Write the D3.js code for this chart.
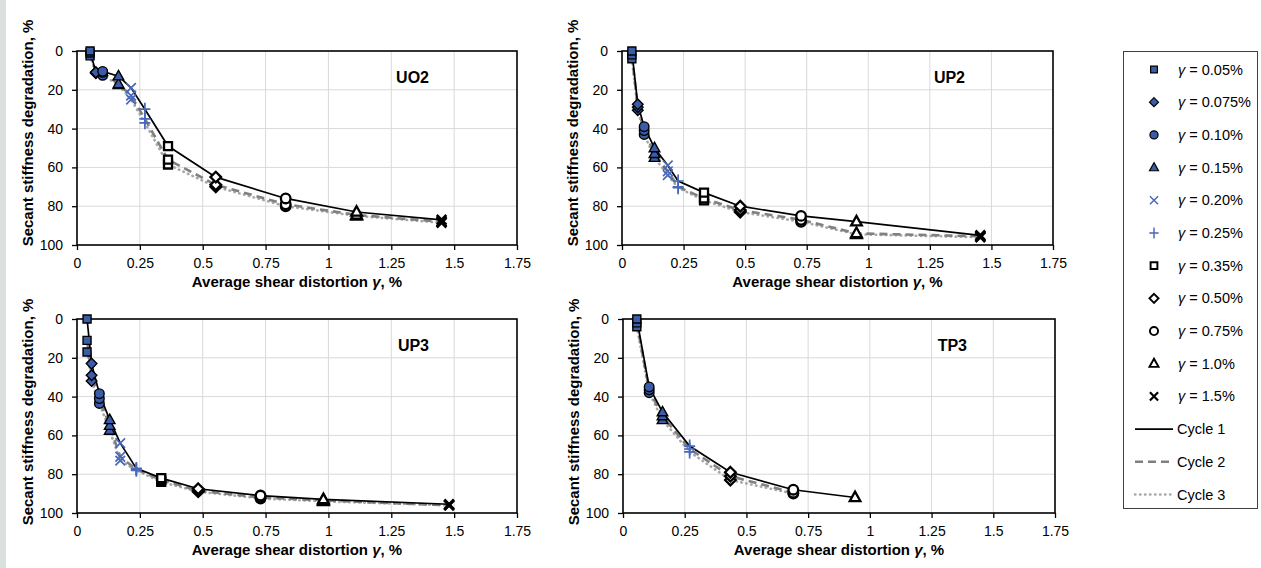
<!DOCTYPE html>
<html>
<head>
<meta charset="utf-8">
<script src="https://cdn.jsdelivr.net/npm/d3@7"></script>
<style>
  body { margin: 0; background: #fff; }
  svg { display: block; font-family: "Liberation Sans", Arial, sans-serif; }
</style>
</head>
<body>
<div id="chart"></div>
<script>
// amplitude levels (legend order)
const levels = ["0.05%", "0.075%", "0.10%", "0.15%", "0.20%", "0.25%", "0.35%", "0.50%", "0.75%", "1.0%", "1.5%"];
const cycles = ["Cycle 1", "Cycle 2", "Cycle 3"];
const xTicks = [0, 0.25, 0.5, 0.75, 1, 1.25, 1.5, 1.75];
const yTicks = [0, 20, 40, 60, 80, 100];

// UO2
const uo2Gamma  = [0.052, 0.075, 0.102, 0.165, 0.215, 0.27, 0.362, 0.552, 0.83, 1.112, 1.45];
const uo2Cycle1 = [0, 11, 10.5, 13, 19, 30, 49, 65, 76, 83, 87];
const uo2Cycle2 = [1, 11, 11, 17, 23, 35, 56, 69, 79, 84.5, 88];
const uo2Cycle3 = [2.5, 11.5, 12.5, 17.5, 25, 37, 58.5, 70, 80, 85, 88.5];

// UP2
const up2Gamma  = [0.04, 0.064, 0.09, 0.132, 0.186, 0.228, 0.333, 0.48, 0.727, 0.952, 1.455];
const up2Cycle1 = [0, 27.5, 39, 50, 59, 67, 73, 80, 85, 88, 95];
const up2Cycle2 = [2, 29, 41, 53, 62, 70, 76, 82, 87, 94, 95.5];
const up2Cycle3 = [4, 30.5, 43, 55, 64, 70.5, 77, 83, 88, 94.5, 96];

// UP3
const up3Gamma  = [0.04, 0.058, 0.089, 0.13, 0.172, 0.236, 0.335, 0.482, 0.73, 0.98, 1.48];
const up3Cycle1 = [0, 23, 38.5, 52, 64, 77, 82, 87.5, 91, 93, 95.5];
const up3Cycle2 = [11, 29, 41, 55, 71, 77.5, 83, 88.5, 92, 93.5, 96];
const up3Cycle3 = [17, 32, 43.5, 57.5, 73, 78, 84, 89, 92.5, 94, 96];

// TP3 (not all levels tested)
const tp3Gamma  = [0.056, null, 0.106, 0.16, null, 0.27, null, 0.435, 0.69, 0.94, null];
const tp3Cycle1 = [0, null, 35, 48, null, 65.5, null, 79, 88, 92, null];
const tp3Cycle2 = [2, null, 36.5, 50, null, 67, null, 81, 89.5, null, null];
const tp3Cycle3 = [4, null, 38, 52, null, 68.5, null, 83, 90, null, null];

const panels = [
  { name: "UO2", gamma: uo2Gamma, series: [uo2Cycle1, uo2Cycle2, uo2Cycle3], left: 77, top: 51, right: 517, bottom: 245, titleY: 133 },
  { name: "UP2", gamma: up2Gamma, series: [up2Cycle1, up2Cycle2, up2Cycle3], left: 622, top: 51, right: 1053, bottom: 245, titleY: 133 },
  { name: "UP3", gamma: up3Gamma, series: [up3Cycle1, up3Cycle2, up3Cycle3], left: 77, top: 319, right: 517, bottom: 513, titleY: 412 },
  { name: "TP3", gamma: tp3Gamma, series: [tp3Cycle1, tp3Cycle2, tp3Cycle3], left: 623, top: 319, right: 1055, bottom: 513, titleY: 412 }
];

const shapes = ["square", "diamond", "circle", "triangle", "x", "plus", "square", "diamond", "circle", "triangle", "x"];
const blue = "#3a5ca9";
const blueLine = "#4868bc";

function markerPath(s) {
  switch (s) {
    case "square": return "M-4,-4h8v8h-8Z";
    case "diamond": return "M0,-5.3L5.3,0L0,5.3L-5.3,0Z";
    case "circle": return d3.symbol(d3.symbolCircle, 72)();
    case "triangle": return "M0,-5.8L5.3,3.7L-5.3,3.7Z";
    case "x": return "M-4.8,-4.8L4.8,4.8M-4.8,4.8L4.8,-4.8";
    case "plus": return "M-5.5,0L5.5,0M0,-6.5L0,6.5";
  }
}

function styleMarker(sel, i) {
  const s = shapes[i];
  const hollow = i >= 6;
  if (s === "x" || s === "plus") {
    sel.attr("fill", "none")
      .attr("stroke", hollow ? "#000" : blueLine)
      .attr("stroke-width", hollow ? 2.6 : 1.7);
  } else {
    sel.attr("fill", hollow ? "#fff" : blue)
      .attr("stroke", "#000")
      .attr("stroke-width", hollow ? 2.3 : 1.4);
  }
}

const lineStyles = [
  { color: "#000", width: 1.7, dash: null, cap: "butt" },
  { color: "#808080", width: 2.6, dash: "8,5", cap: "butt" },
  { color: "#a8a8a8", width: 2.6, dash: "0.5,4.5", cap: "round" }
];

const W = 1261, H = 568;
const svg = d3.select("#chart").append("svg").attr("width", W).attr("height", H);

svg.append("rect").attr("x", 0).attr("y", 0).attr("width", 6).attr("height", H).attr("fill", "#dae0e0");

panels.forEach(p => {
  const x = d3.scaleLinear().domain([0, 1.75]).range([p.left, p.right]);
  const y = d3.scaleLinear().domain([0, 100]).range([p.top, p.bottom]);
  const g = svg.append("g");

  // grid
  g.append("g").selectAll("line").data(xTicks.slice(1, -1)).join("line")
    .attr("x1", d => x(d)).attr("x2", d => x(d)).attr("y1", p.top).attr("y2", p.bottom)
    .attr("stroke", "#d9d9d9").attr("stroke-width", 1);
  g.append("g").selectAll("line").data(yTicks.slice(1, -1)).join("line")
    .attr("y1", d => y(d)).attr("y2", d => y(d)).attr("x1", p.left).attr("x2", p.right)
    .attr("stroke", "#d9d9d9").attr("stroke-width", 1);

  // axes
  const xa = g.append("g").attr("transform", `translate(0,${p.bottom})`)
    .call(d3.axisBottom(x).tickValues(xTicks).tickSize(5).tickPadding(8).tickFormat(d3.format("")));
  const ya = g.append("g").attr("transform", `translate(${p.left},0)`)
    .call(d3.axisLeft(y).tickValues(yTicks).tickSize(5).tickPadding(9));
  [xa, ya].forEach(a => {
    a.select(".domain").remove();
    a.selectAll("line").attr("stroke", "#000").attr("stroke-width", 1.3);
    a.selectAll("text").attr("font-size", 14).attr("fill", "#000")
      .attr("font-family", '"Liberation Sans", Arial, sans-serif');
  });

  g.append("rect").attr("x", p.left).attr("y", p.top)
    .attr("width", p.right - p.left).attr("height", p.bottom - p.top)
    .attr("fill", "none").attr("stroke", "#000").attr("stroke-width", 1.6);

  // titles
  const xt = g.append("text").attr("x", (p.left + p.right) / 2).attr("y", p.bottom + 42)
    .attr("text-anchor", "middle").attr("font-size", 15).attr("font-weight", "bold");
  xt.append("tspan").text("Average shear distortion ");
  xt.append("tspan").attr("font-style", "italic").text("γ");
  xt.append("tspan").text(", %");

  g.append("text").attr("transform", `translate(${p.left - 44},${p.titleY}) rotate(-90)`)
    .attr("text-anchor", "middle").attr("font-size", 15).attr("font-weight", "bold")
    .text("Secant stiffness degradation, %");

  g.append("text").attr("x", p.right - 88).attr("y", p.top + 32)
    .attr("text-anchor", "end").attr("font-size", 16).attr("font-weight", "bold")
    .text(p.name);

  // cycle lines
  const line = d3.line().x(d => x(d[0])).y(d => y(d[1]));
  [2, 1, 0].forEach(c => {
    const pts = p.gamma.map((gm, i) => [gm, p.series[c][i]]).filter(d => d[0] != null && d[1] != null);
    const st = lineStyles[c];
    g.append("path").attr("d", line(pts)).attr("fill", "none")
      .attr("stroke", st.color).attr("stroke-width", st.width)
      .attr("stroke-dasharray", st.dash).attr("stroke-linecap", st.cap);
  });

  // markers
  [2, 1, 0].forEach(c => {
    p.gamma.forEach((gm, i) => {
      const v = p.series[c][i];
      if (gm == null || v == null) return;
      g.append("path").attr("d", markerPath(shapes[i]))
        .attr("transform", `translate(${x(gm)},${y(v)})`)
        .call(styleMarker, i);
    });
  });
});

// legend
const lg = svg.append("g");
lg.append("rect").attr("x", 1123.5).attr("y", 51.5).attr("width", 134).attr("height", 457)
  .attr("fill", "#fff").attr("stroke", "#404040").attr("stroke-width", 1);
const ly = d3.scalePoint().domain(d3.range(levels.length + cycles.length)).range([69.5, 494.5]);

levels.forEach((lv, i) => {
  lg.append("path").attr("d", markerPath(shapes[i]))
    .attr("transform", `translate(1154,${ly(i)}) scale(0.85)`)
    .call(styleMarker, i);
  const t = lg.append("text").attr("x", 1178).attr("y", ly(i) + 5).attr("font-size", 14.5);
  t.append("tspan").attr("font-style", "italic").text("γ");
  t.append("tspan").text(" = " + lv);
});

cycles.forEach((cy, c) => {
  const yy = ly(levels.length + c);
  const st = lineStyles[c];
  lg.append("line").attr("x1", 1135).attr("x2", 1173).attr("y1", yy).attr("y2", yy)
    .attr("stroke", st.color).attr("stroke-width", c === 0 ? 1.6 : 2.4)
    .attr("stroke-dasharray", st.dash).attr("stroke-linecap", st.cap);
  lg.append("text").attr("x", 1177).attr("y", yy + 5).attr("font-size", 14.5).text(cy);
});
</script>
</body>
</html>
